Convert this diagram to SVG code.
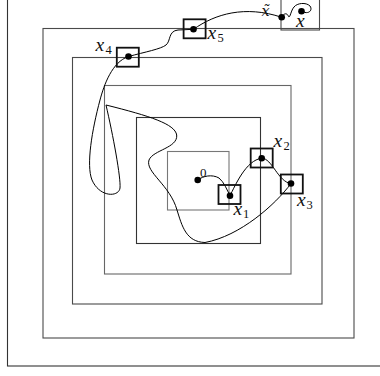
<svg xmlns="http://www.w3.org/2000/svg" width="380" height="376" viewBox="0 0 380 376">
<style>
.reg{fill:none;stroke:#4a4a4a;stroke-width:1.1}
.box{fill:none;stroke:#111;stroke-width:1.8}
.dot{fill:#000}
.lbl{font-family:"Liberation Serif",serif;font-style:italic;font-size:19.5px;fill:#111}
.sub{font-family:"Liberation Serif",serif;font-size:12.5px;fill:#111}
.cur{fill:none;stroke:#000;stroke-width:1}
</style>
<rect width="380" height="376" fill="#fff"/>
<g id="regions">
<rect class="reg" x="7.5" y="-10" width="400" height="376" style="stroke:#333"/>
<rect class="reg" x="43" y="28.5" width="311" height="309.5"/>
<rect class="reg" x="72.5" y="57.5" width="249.5" height="246.5"/>
<rect class="reg" x="104.5" y="85.5" width="186.5" height="188.5" style="stroke:#666"/>
<rect class="reg" x="136.5" y="117.5" width="124" height="126" style="stroke:#333"/>
<rect class="reg" x="167.5" y="151.5" width="61.5" height="58.5" style="stroke:#777"/>
<rect class="reg" x="281" y="-5" width="38.5" height="35"/>
</g>
<g id="connectors">
<path class="cur" d="M197.7,180 C203,176 212,174 219,178 C224,182 227,190 230,195.7 C235,186 246,160 261.7,158.3 C272,158 278,182 291,183.5 C275,205 240,236 205,242.5 C186,242 182,226 177,210 C170,185 145,172 149,160 C153,150 178,148 176.7,135 C175,124 150,116 106,105 C113,135 121,178 120,188 C119,197 100,198 92,180 C86,165 92,130 100,100 C104,85 112,62 128.5,56.5 C145,52 161,49 166,45 C171,41 168,31 178,30 L193.5,29.3 C215,14 245,5 281.7,17.3 C284,13 287,12.5 288.5,16.5 C290,19 291,10 294,7 C297,3 306,2 310,6 C313,10 309,15 301.5,11.3"/>
</g>
<g id="n0"><circle class="dot" cx="197.7" cy="180" r="3.3"/><text class="sub" x="200" y="176.5" style="font-size:13px">0</text></g>
<g id="x1"><rect class="box" x="218.5" y="185" width="22" height="19"/><circle class="dot" cx="230" cy="195.7" r="3.3"/><text class="lbl" x="233.5" y="215">x</text><text class="sub" x="243" y="218">1</text></g>
<g id="x2"><rect class="box" x="250.7" y="148.5" width="22" height="19"/><circle class="dot" cx="261.7" cy="158.3" r="3.3"/><text class="lbl" x="273.5" y="146.5">x</text><text class="sub" x="283.5" y="149.5">2</text></g>
<g id="x3"><rect class="box" x="280.8" y="174.5" width="22" height="19"/><circle class="dot" cx="291" cy="183.5" r="3.3"/><text class="lbl" x="297" y="205.5">x</text><text class="sub" x="306.5" y="208.5">3</text></g>
<g id="x4"><rect class="box" x="116.8" y="47.7" width="22" height="19"/><circle class="dot" cx="128.5" cy="56.5" r="3.3"/><text class="lbl" x="95.5" y="50.5">x</text><text class="sub" x="105.5" y="53.5">4</text></g>
<g id="x5"><rect class="box" x="183.6" y="19.3" width="22" height="19"/><circle class="dot" cx="193.5" cy="29.3" r="3.3"/><text class="lbl" x="207.5" y="38.5">x</text><text class="sub" x="217.5" y="41.5">5</text></g>
<g id="xt"><circle class="dot" cx="281.7" cy="17.3" r="3.3"/><text x="261.5" y="16" style="font-family:'DejaVu Serif',serif;font-style:italic;font-size:14.5px;fill:#111">x̃</text></g>
<g id="x"><circle class="dot" cx="301.5" cy="11.3" r="3.3"/><text class="lbl" x="296" y="26.5">x</text></g>
</svg>
